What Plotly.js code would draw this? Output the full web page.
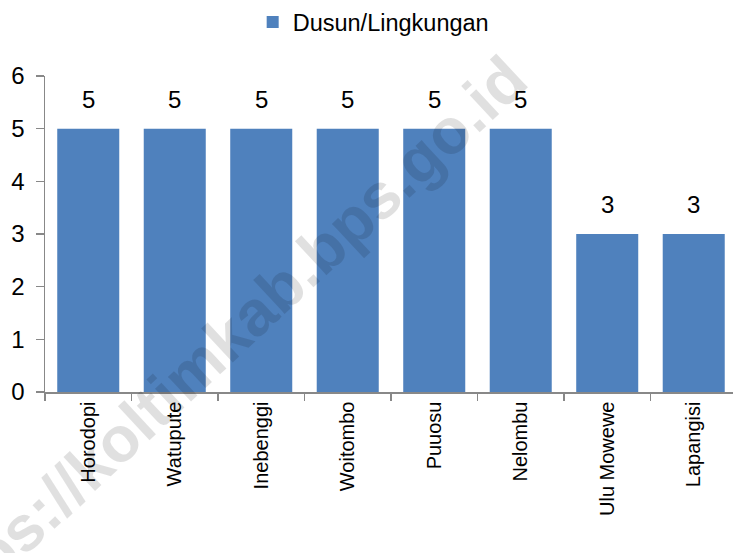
<!DOCTYPE html>
<html>
<head>
<meta charset="utf-8">
<script src="https://cdn.plot.ly/plotly-3.0.1.min.js"></script>
<style>html,body{margin:0;padding:0;background:#fff;}#chart{width:733px;height:553px;}</style>
</head>
<body>
<div id="chart"></div>
<script>
const categories = ["Horodopi", "Watupute", "Inebenggi", "Woitombo", "Puuosu", "Nelombu", "Ulu Mowewe", "Lapangisi"];
const values = [5, 5, 5, 5, 5, 5, 3, 3];
const seriesName = "Dusun/Lingkungan";
const yTicks = [0, 1, 2, 3, 4, 5, 6];

const FONT = "'Liberation Sans Narrow', 'Arial Narrow', 'Liberation Sans', Arial, sans-serif";

const trace = {
  type: "bar",
  x: categories,
  y: values,
  name: seriesName,
  marker: {color: "#4F81BD"},
  showlegend: true
};

const labelAnnotations = categories.map((c, i) => ({
  x: c, y: values[i], xref: "x", yref: "y",
  text: String(values[i]), showarrow: false,
  yanchor: "bottom", yshift: 14,
  font: {family: FONT, size: 24, color: "#000"}
}));

const watermark = {
  xref: "paper", yref: "paper", x: 0.2515, y: 0.147,
  text: "https://koltimkab.bps.go.id", showarrow: false,
  textangle: -43,
  font: {family: "'Liberation Sans', Arial, sans-serif", size: 64, color: "rgba(0,0,0,0.12)", weight: "bold"},
  xanchor: "center", yanchor: "middle"
};

const layout = {
  width: 733, height: 553,
  margin: {l: 45, r: 0, t: 73, b: 161},
  paper_bgcolor: "#fff", plot_bgcolor: "#fff",
  bargap: 0.283,
  showlegend: true,
  legend: {orientation: "h", x: 0.477, xanchor: "center", y: 1.17, yanchor: "middle",
           itemwidth: 30,
           font: {family: "'Liberation Sans', Arial, sans-serif", size: 23.5, color: "#000"}},
  xaxis: {
    type: "category",
    range: [-0.5, 7.454],
    tickson: "boundaries",
    ticks: "outside", ticklen: 7, tickcolor: "#888", tickwidth: 1.5,
    showline: true, linecolor: "#888", linewidth: 1.5,
    tickangle: -90,
    tickfont: {family: FONT, size: 20, color: "#000"},
    showgrid: false, zeroline: false, fixedrange: true
  },
  yaxis: {
    range: [0, 6],
    tickvals: yTicks,
    ticks: "outside", ticklen: 8, tickcolor: "#888", tickwidth: 1.5,
    showline: true, linecolor: "#888", linewidth: 1.5,
    tickfont: {family: FONT, size: 24, color: "#000"},
    ticklabelstandoff: 6,
    showgrid: false, zeroline: false, fixedrange: true
  },
  annotations: labelAnnotations.concat([watermark])
};

Plotly.newPlot("chart", [trace], layout, {displayModeBar: false, staticPlot: true});
</script>
</body>
</html>
